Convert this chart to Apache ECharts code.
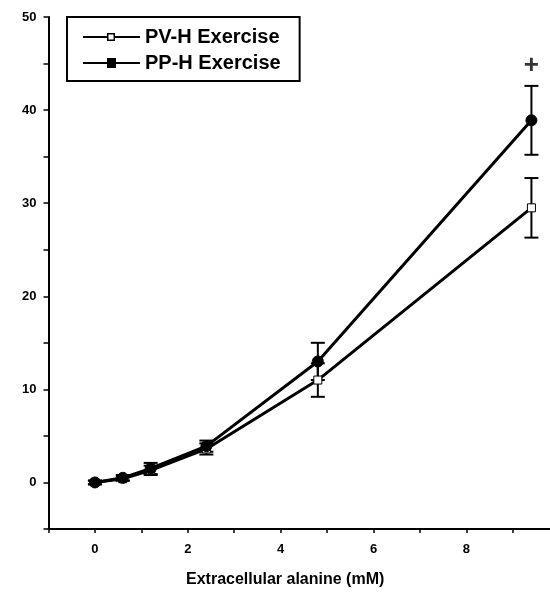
<!DOCTYPE html>
<html>
<head>
<meta charset="utf-8">
<script src="https://cdn.jsdelivr.net/npm/echarts@6/dist/echarts.min.js"></script>
<style>html,body{margin:0;padding:0;background:#fff}#c{width:550px;height:594px}</style>
</head>
<body>
<div id="c"></div>
<script>
// Data
var xValues = [0, 0.6, 1.2, 2.4, 4.8, 9.4];
var pvValues = [0, 0.4, 1.3, 3.6, 11.0, 29.5];
var pvErrors = [0.2, 0.2, 0.5, 0.6, 1.8, 3.2];
var ppValues = [0, 0.5, 1.5, 3.9, 13.0, 38.9];
var ppErrors = [0.2, 0.3, 0.6, 0.6, 2.0, 3.7];
var seriesNames = ['PV-H Exercise', 'PP-H Exercise'];
var xTickLabels = ['0', '2', '4', '6', '8', '10'];
var yTickLabels = ['0', '10', '20', '30', '40', '50'];
var sigMark = {x: 9.4, y: 44.8, text: '+'};
var xAxisTitle = 'Extracellular alanine (mM)';

function pairs(xs, ys) { return xs.map(function (x, i) { return [x, ys[i]]; }); }
function errs(xs, ys, es) { return xs.map(function (x, i) { return [x, ys[i] - es[i], ys[i] + es[i]]; }); }

function errRender(params, api) {
  var x = api.value(0), lo = api.value(1), hi = api.value(2);
  var pLo = api.coord([x, lo]), pHi = api.coord([x, hi]);
  var hw = 7;
  var st = {stroke: '#000', lineWidth: 2};
  return {type: 'group', children: [
    {type: 'line', shape: {x1: pLo[0], y1: pLo[1], x2: pHi[0], y2: pHi[1]}, style: st},
    {type: 'line', shape: {x1: pLo[0] - hw, y1: pLo[1], x2: pLo[0] + hw, y2: pLo[1]}, style: st},
    {type: 'line', shape: {x1: pHi[0] - hw, y1: pHi[1], x2: pHi[0] + hw, y2: pHi[1]}, style: st}
  ]};
}

var font = '"Liberation Sans", Arial, sans-serif';
var openIcon = 'path://M0,4H24V6H0Z M24,1H32V9H24Z M25.5,2.5V7.5H30.5V2.5Z M32,4H57V6H32Z';
var fillIcon = 'path://M0,4H24V6H0Z M24,0H33V10H24Z M33,4H57V6H33Z';

var chart = echarts.init(document.getElementById('c'), null, {renderer: 'canvas'});
chart.setOption({
  backgroundColor: '#fff',
  animation: false,
  title: {
    text: xAxisTitle, left: 181, top: 567,
    textStyle: {fontFamily: font, fontSize: 16, fontWeight: 'bold', color: '#000'}
  },
  legend: {
    left: 67, top: 17, orient: 'vertical',
    padding: [10, 19, 8, 16], itemGap: 6,
    itemWidth: 57, itemHeight: 10,
    borderColor: '#000', borderWidth: 2,
    textStyle: {fontFamily: font, fontSize: 20, fontWeight: 'bold', color: '#000'},
    data: [
      {name: seriesNames[0], icon: openIcon, itemStyle: {color: '#000', borderWidth: 0}, lineStyle: {width: 0}},
      {name: seriesNames[1], icon: fillIcon, itemStyle: {color: '#000', borderWidth: 0}, lineStyle: {width: 0}}
    ]
  },
  grid: {left: 48.5, top: 17, bottom: 65, right: 0, containLabel: false},
  xAxis: {
    type: 'value', min: -1, max: 9.8, interval: 1,
    axisLine: {onZero: false, lineStyle: {color: '#000', width: 2}},
    axisTick: {length: 4, lineStyle: {color: '#000', width: 1.5}},
    axisLabel: {
      color: '#000', fontFamily: font, fontSize: 13, fontWeight: 'bold', margin: 14,
      showMaxLabel: false,
      formatter: function (v) { var s = String(v); return xTickLabels.indexOf(s) >= 0 ? s : ''; }
    },
    splitLine: {show: false}
  },
  yAxis: {
    type: 'value', min: -5, max: 50, interval: 5,
    axisLine: {onZero: false, lineStyle: {color: '#000', width: 2}},
    axisTick: {length: 5, lineStyle: {color: '#000', width: 1.5}},
    axisLabel: {
      color: '#000', fontFamily: font, fontSize: 13, fontWeight: 'bold', margin: 12,
      formatter: function (v) { var s = String(v); return yTickLabels.indexOf(s) >= 0 ? s : ''; }
    },
    splitLine: {show: false}
  },
  series: [
    {
      name: seriesNames[0], type: 'line', data: pairs(xValues, pvValues),
      symbol: 'rect', symbolSize: 8, showSymbol: true, z: 3,
      lineStyle: {color: '#000', width: 3},
      itemStyle: {color: '#fff', borderColor: '#000', borderWidth: 1}
    },
    {
      name: seriesNames[1], type: 'line', data: pairs(xValues, ppValues),
      symbol: 'circle', symbolSize: 11, showSymbol: true, z: 4,
      lineStyle: {color: '#000', width: 3},
      itemStyle: {color: '#000', borderColor: '#000'}
    },
    {type: 'custom', renderItem: errRender, data: errs(xValues, pvValues, pvErrors), z: 2, silent: true},
    {type: 'custom', renderItem: errRender, data: errs(xValues, ppValues, ppErrors), z: 2, silent: true},
    {
      type: 'scatter', data: [[sigMark.x, sigMark.y]], symbol: 'circle', symbolSize: 1, silent: true,
      itemStyle: {color: 'rgba(0,0,0,0)'},
      label: {show: true, position: 'inside', formatter: sigMark.text, color: '#000',
        fontFamily: font, fontSize: 26, fontWeight: 'bold'}
    }
  ]
});
</script>
</body>
</html>
